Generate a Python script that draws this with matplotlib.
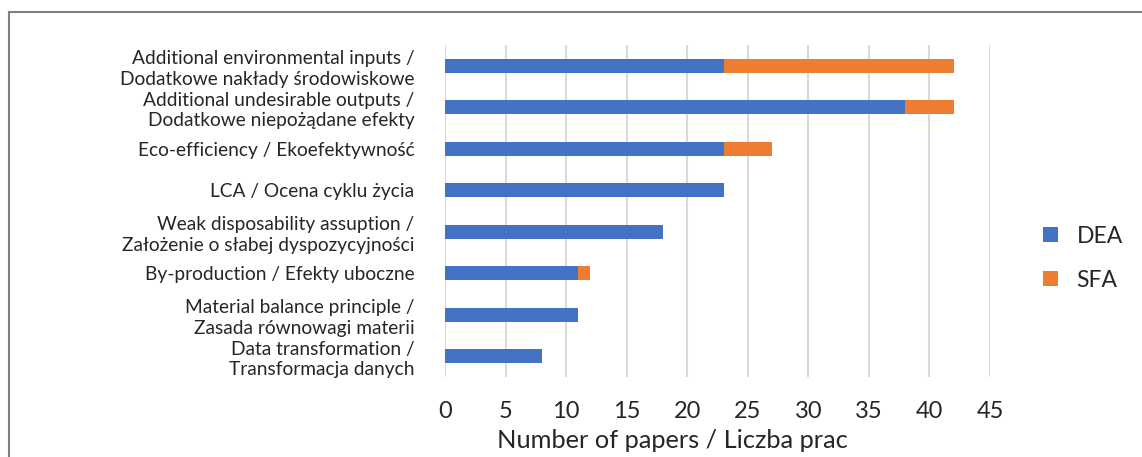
import matplotlib
matplotlib.use("Agg")
import matplotlib.pyplot as plt
from matplotlib.lines import Line2D

plt.rcParams['font.family'] = ['Lato', 'DejaVu Sans']

# dane
categories = [
    "Additional environmental inputs /\nDodatkowe nakłady środowiskowe",
    "Additional undesirable outputs /\nDodatkowe niepożądane efekty",
    "Eco-efficiency / Ekoefektywność",
    "LCA / Ocena cyklu życia",
    "Weak disposability assuption /\nZałożenie o słabej dyspozycyjności",
    "By-production / Efekty uboczne",
    "Material balance principle /\nZasada równowagi materii",
    "Data transformation /\nTransformacja danych",
]
dea = [23, 38, 23, 23, 18, 11, 11, 8]
sfa = [19, 4, 4, 0, 0, 1, 0, 0]
xticks = [0, 5, 10, 15, 20, 25, 30, 35, 40, 45]

fig = plt.figure(figsize=(11.42, 4.57), dpi=100)
ax = fig.add_axes([445/1142, 1-377/457, (990-445)/1142, (377-45)/457])

pos = list(range(len(categories)))
ax.barh(pos, dea, height=0.34, color='#4472C4', label='DEA')
ax.barh(pos, sfa, left=dea, height=0.34, color='#ED7D31', label='SFA')

ax.set_yticks(pos)
ax.set_yticklabels(categories, fontsize=13.8, color='#262626', linespacing=1.25)
ax.set_ylim(len(categories)-0.5, -0.5)
ax.set_xlim(0, 45)
ax.set_xticks(xticks)
ax.tick_params(axis='x', labelsize=17, length=0, pad=17, colors='#262626')
ax.tick_params(axis='y', length=0, pad=22)
ax.grid(axis='x', color='#D9D9D9', linewidth=1.5)
ax.set_axisbelow(True)
for s in ax.spines.values():
    s.set_visible(False)

fig.text(672/1142, 1-441/457, "Number of papers / Liczba prac", fontsize=18.3,
         ha='center', va='center', color='#262626')

ax.legend(loc='center left', bbox_to_anchor=(1.06, 0.358), frameon=False,
          fontsize=16.5, handlelength=0.65, handleheight=0.65, labelspacing=1.0,
          handletextpad=0.8, labelcolor='#262626')

# ramka
fig.add_artist(Line2D([9/1142, 9/1142], [0, 1-12/457], color='#7F7F7F', linewidth=1.5))
fig.add_artist(Line2D([9/1142, 1], [1-12/457, 1-12/457], color='#7F7F7F', linewidth=1.5))

fig.savefig("out.png", dpi=100)
